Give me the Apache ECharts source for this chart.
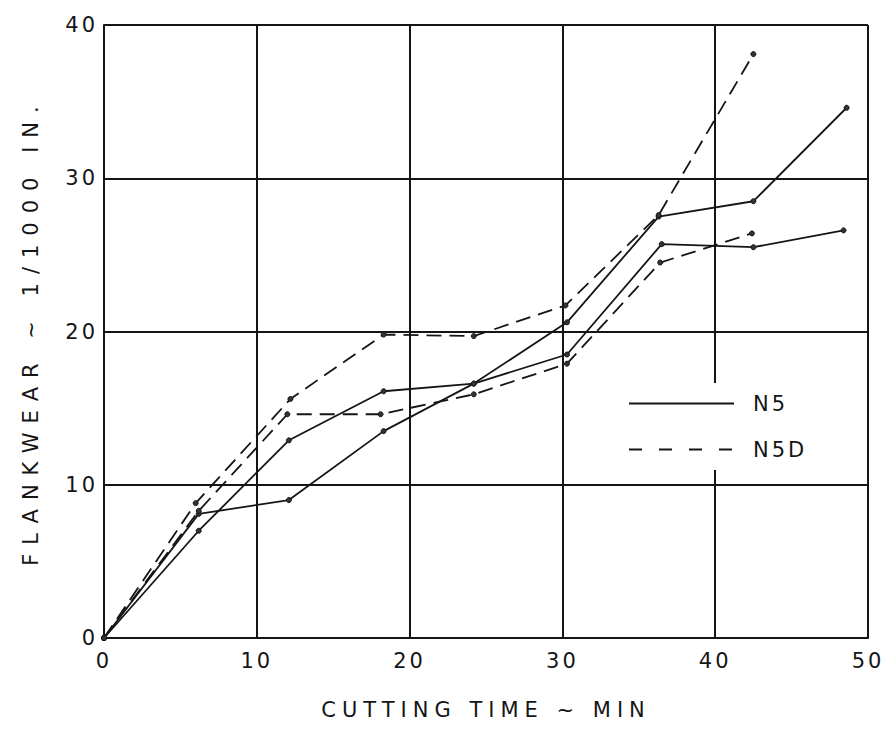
<!DOCTYPE html>
<html>
<head>
<meta charset="utf-8">
<script src="https://cdn.jsdelivr.net/npm/echarts@6/dist/echarts.min.js"></script>
<style>
html,body{margin:0;padding:0;background:#fff;}
#c{width:892px;height:734px;}
#c svg text{letter-spacing:3px;}
</style>
</head>
<body>
<div id="c"></div>
<script>
// Data
const xTicks = [0, 10, 20, 30, 40, 50];
const yTicks = [0, 10, 20, 30, 40];

const n5RunAX = [0, 6.2, 12.1, 18.3, 24.2, 30.3, 36.3, 42.5, 48.6];
const n5RunAY = [0, 7.0, 12.9, 16.1, 16.6, 20.6, 27.5, 28.5, 34.6];
const n5RunBX = [0, 6.2, 12.1, 18.3, 24.2, 30.3, 36.5, 42.5, 48.4];
const n5RunBY = [0, 8.1, 9.0, 13.5, 16.6, 18.5, 25.7, 25.5, 26.6];

const n5dRunAX = [0, 6.0, 12.2, 18.3, 24.2, 30.2, 36.3, 42.5];
const n5dRunAY = [0, 8.8, 15.6, 19.8, 19.7, 21.7, 27.6, 38.1];
const n5dRunBX = [0, 6.2, 12.0, 18.1, 24.2, 30.3, 36.4, 42.4];
const n5dRunBY = [0, 8.3, 14.6, 14.6, 15.9, 17.9, 24.5, 26.4];

const pairs = (xs, ys) => xs.map((x, i) => [x, ys[i]]);
const FONT = 'DejaVu Sans';
const INK = '#151515';

function mkSeries(name, xs, ys, dashed) {
  return {
    name: name,
    type: 'line',
    data: pairs(xs, ys),
    symbol: 'circle',
    symbolSize: 5,
    showSymbol: true,
    itemStyle: { color: '#333', borderColor: INK, borderWidth: 1 },
    lineStyle: { color: INK, width: 1.8, type: dashed ? [15, 8] : 'solid' },
    emphasis: { disabled: true },
    animation: false,
    z: 3
  };
}

const chart = echarts.init(document.getElementById('c'), null, { renderer: 'svg' });
chart.setOption({
  backgroundColor: '#ffffff',
  animation: false,
  grid: { left: 104, right: 24, top: 25, bottom: 96, containLabel: false },
  xAxis: {
    type: 'value', min: 0, max: 50, interval: 10,
    name: 'CUTTING TIME ~ MIN', nameLocation: 'middle', nameGap: 61,
    nameTextStyle: { fontFamily: FONT, fontSize: 21, color: INK },
    axisLine: { show: true, lineStyle: { color: INK, width: 2 } },
    axisTick: { show: false },
    axisLabel: { margin: 12, fontFamily: FONT, fontSize: 21, color: INK,
      formatter: v => xTicks.includes(v) ? String(v) : '' },
    splitLine: { show: true, showMinLine: true, showMaxLine: true, lineStyle: { color: INK, width: 2 } }
  },
  yAxis: {
    type: 'value', min: 0, max: 40, interval: 10,
    name: 'FLANKWEAR ~ 1/1000 IN.', nameLocation: 'middle', nameGap: 63,
    nameTextStyle: { fontFamily: FONT, fontSize: 21, color: INK },
    axisLine: { show: true, lineStyle: { color: INK, width: 2 } },
    axisTick: { show: false },
    axisLabel: { margin: 6, fontFamily: FONT, fontSize: 21, color: INK,
      formatter: v => yTicks.includes(v) ? String(v) : '' },
    splitLine: { show: true, showMinLine: true, showMaxLine: true, lineStyle: { color: INK, width: 2 } }
  },
  legend: {
    orient: 'vertical',
    left: 618, top: 383,
    backgroundColor: '#ffffff',
    padding: [10, 10, 10, 10],
    itemWidth: 105, itemHeight: 14, itemGap: 25,
    itemStyle: { opacity: 0 },
    lineStyle: { width: 2 },
    textStyle: { fontFamily: FONT, fontSize: 21, lineHeight: 20, color: INK, padding: [0, 0, 0, 14] },
    data: [
      { name: 'N5' },
      { name: 'N5D', lineStyle: { type: [13, 17], width: 2 } }
    ],
    selectedMode: false
  },
  series: [
    mkSeries('N5', n5RunAX, n5RunAY, false),
    mkSeries('N5', n5RunBX, n5RunBY, false),
    mkSeries('N5D', n5dRunAX, n5dRunAY, true),
    mkSeries('N5D', n5dRunBX, n5dRunBY, true)
  ]
});

function spaceTitles() {
  document.querySelectorAll('#c svg text').forEach(t => {
    const s = t.textContent || '';
    if (s.indexOf('CUTTING') >= 0) t.style.letterSpacing = '6px';
    else if (s.indexOf('FLANKWEAR') >= 0) t.style.letterSpacing = '9px';
  });
}
chart.on('finished', spaceTitles);
spaceTitles();
</script>
</body>
</html>
